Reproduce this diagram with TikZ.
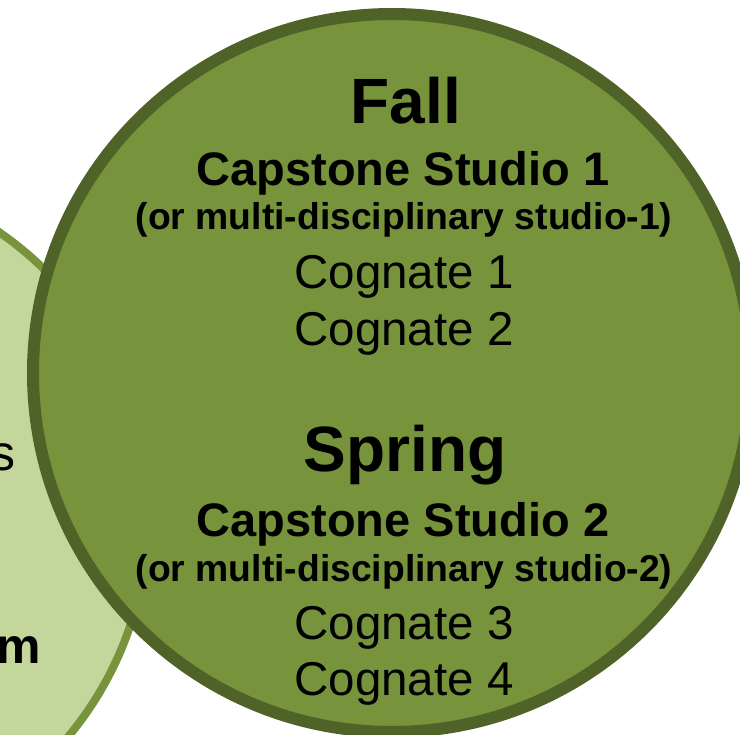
\documentclass[tikz,border=0pt]{standalone}
\usepackage{fontspec}
\setmainfont{Liberation Sans}
\definecolor{oliveFill}{HTML}{77933C}
\definecolor{oliveEdge}{HTML}{4F6228}
\definecolor{paleFill}{HTML}{C3D69B}
\tikzset{
  season/.style={anchor=base, inner sep=0pt, font=\bfseries\fontsize{64}{74}\selectfont},
  course/.style={anchor=base, inner sep=0pt, font=\bfseries\fontsize{47}{56}\selectfont},
  note/.style={anchor=base, inner sep=0pt, font=\bfseries\fontsize{37.3}{44}\selectfont},
  cognate/.style={anchor=base, inner sep=0pt, font=\fontsize{47.5}{56}\selectfont},
  fragment/.style={anchor=base east, inner sep=0pt},
}
\begin{document}
\begin{tikzpicture}[x=1pt,y=-1pt]
\useasboundingbox (0,0) rectangle (740,735);
\begin{scope}
\clip (0,0) rectangle (740,735);
% neighbouring circle on the left
\draw[fill=paleFill, draw=oliveFill, line width=8pt] (-197,516) circle[radius=345];
\node[fragment, font=\fontsize{50}{60}\selectfont] (frag1) at (16,471) {s};
\node[fragment, font=\bfseries\fontsize{50}{60}\selectfont] (frag2) at (41,663) {m};
% main circle
\draw[fill=oliveFill, draw=oliveEdge, line width=12pt] (392,373) circle[radius=359];
\end{scope}
% Fall semester
\node[season]  (fall)  at (406,124) {Fall};
\node[course]  (cap1)  at (403,186) {Capstone Studio 1};
\node[note]    (alt1)  at (404,230) {(or multi-disciplinary studio-1)};
\node[cognate] (cog1)  at (404,289) {Cognate 1};
\node[cognate] (cog2)  at (404,346) {Cognate 2};
% Spring semester
\node[season]  (spring) at (405,472) {Spring};
\node[course]  (cap2)   at (403,537) {Capstone Studio 2};
\node[note]    (alt2)   at (404,582) {(or multi-disciplinary studio-2)};
\node[cognate] (cog3)   at (404,639) {Cognate 3};
\node[cognate] (cog4)   at (404,695) {Cognate 4};
\end{tikzpicture}
\end{document}
